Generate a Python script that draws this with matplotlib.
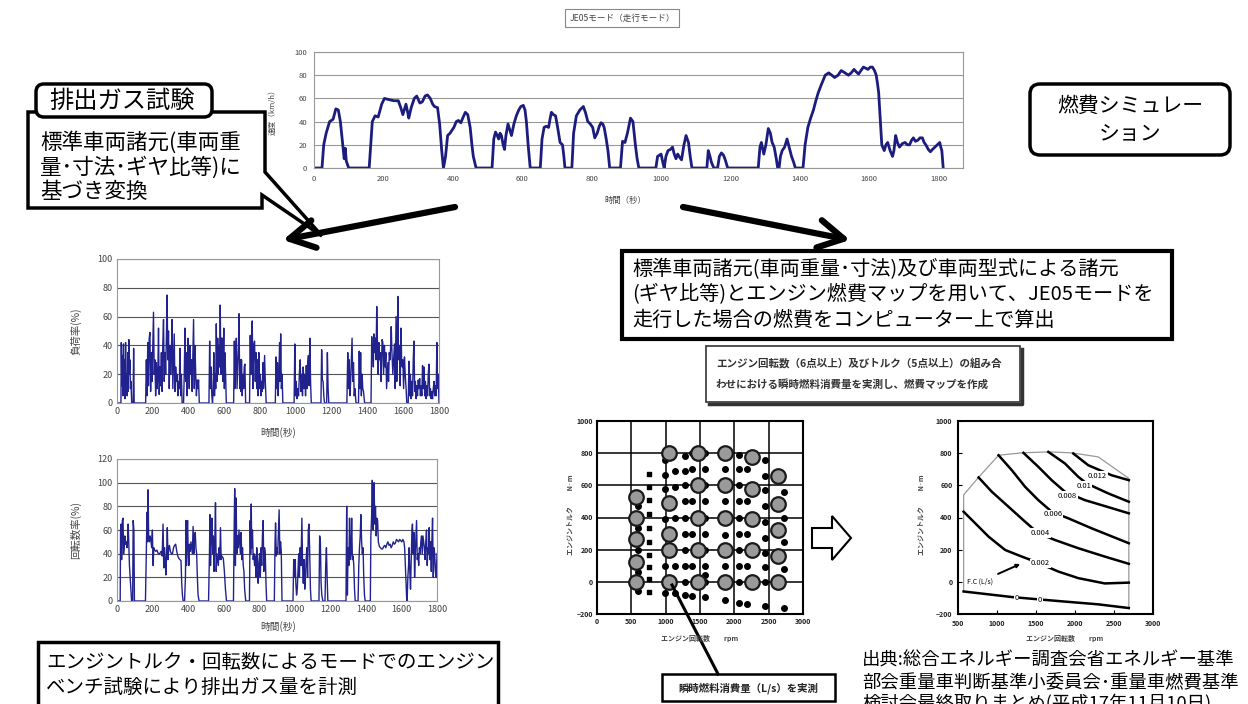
import matplotlib
matplotlib.use("Agg")
import matplotlib.pyplot as plt
from matplotlib.patches import FancyBboxPatch, Polygon, Rectangle

plt.rcParams["font.family"] = ["Noto Sans CJK JP", "DejaVu Sans"]

W, H = 1248, 704

# JE05 mode speed trace (time s, km/h)
speed_pts = [
    (0, 0), (23, 0), (28, 20), (35, 30), (45, 40), (55, 42), (63, 51), (70, 50), (76, 40), (83, 20),
    (87, 8), (90, 17), (93, 6), (100, 0),
    (159, 0), (168, 40), (176, 45), (185, 44), (195, 55), (203, 60), (215, 59), (230, 58), (243, 58),
    (250, 52), (256, 46), (260, 50), (265, 55), (270, 48), (273, 43), (280, 52), (289, 60), (296, 62),
    (305, 56), (312, 57), (320, 62), (327, 63), (335, 60), (342, 55), (347, 53), (356, 52), (362, 38),
    (368, 15), (373, 0),
    (379, 10), (385, 28), (392, 30), (403, 35), (410, 40), (416, 41), (423, 39), (430, 44), (436, 48),
    (443, 46), (450, 35), (455, 20), (459, 10), (467, 0),
    (513, 0), (518, 25), (523, 31), (528, 28), (532, 25), (536, 30), (540, 28), (545, 20), (549, 16),
    (553, 28), (559, 38), (564, 33), (569, 28), (576, 38), (583, 45), (590, 50), (596, 53), (603, 54),
    (608, 50), (612, 40), (617, 20), (623, 0),
    (652, 0), (657, 25), (663, 35), (669, 36), (676, 35), (680, 42), (684, 48), (690, 46), (696, 45),
    (702, 35), (709, 22), (716, 20), (720, 10), (723, 0),
    (743, 0), (748, 30), (756, 45), (766, 50), (776, 53), (782, 48), (789, 40), (796, 38), (803, 35),
    (809, 26), (816, 30), (822, 36), (827, 39), (832, 38), (836, 35), (842, 25), (847, 15), (852, 0),
    (883, 0), (889, 23), (896, 22), (903, 30), (912, 43), (919, 40), (926, 20), (931, 8), (936, 0),
    (985, 0), (990, 10), (1000, 12), (1005, 5), (1009, 0), (1014, 10), (1020, 15), (1027, 16),
    (1033, 18), (1038, 12), (1043, 8), (1048, 12), (1052, 10), (1059, 7), (1066, 20), (1072, 28),
    (1079, 22), (1084, 10), (1089, 0),
    (1132, 0), (1136, 15), (1141, 10), (1145, 5), (1152, 0), (1163, 0), (1168, 10), (1174, 13),
    (1180, 11), (1185, 7), (1192, 0),
    (1280, 0), (1285, 18), (1289, 22), (1296, 12), (1302, 20), (1309, 34), (1315, 30), (1320, 22),
    (1326, 18), (1332, 8), (1336, 0), (1340, 0), (1344, 10), (1349, 15), (1356, 18), (1363, 25),
    (1369, 18), (1376, 10), (1382, 5), (1387, 0),
    (1409, 0), (1415, 20), (1423, 35), (1431, 43), (1439, 50), (1446, 58), (1453, 65), (1462, 72),
    (1473, 80), (1483, 82), (1492, 80), (1500, 78), (1510, 80), (1519, 84), (1530, 82), (1540, 80),
    (1548, 82), (1556, 85), (1562, 83), (1569, 81), (1576, 84), (1583, 87), (1590, 86), (1596, 85),
    (1603, 87), (1609, 87), (1615, 84), (1620, 80), (1624, 72), (1627, 65), (1632, 40), (1636, 20),
    (1643, 15), (1648, 20), (1653, 22), (1660, 15), (1667, 10), (1671, 15), (1676, 28), (1681, 22),
    (1687, 18), (1695, 21), (1703, 22), (1710, 20), (1716, 20), (1722, 24), (1727, 26), (1733, 23),
    (1740, 24), (1746, 26), (1753, 26), (1758, 22), (1763, 20), (1770, 16), (1776, 14), (1782, 16),
    (1789, 18), (1796, 20), (1803, 22), (1806, 18), (1809, 15), (1813, 0),
]

# load ratio (time s, %)
load_pts = [
    (0, 0), (22, 0), (24, 42), (27, 12), (30, 33), (33, 5), (36, 41), (39, 15), (42, 30), (45, 3),
    (48, 42), (51, 12), (54, 20), (57, 5), (60, 35), (63, 8), (66, 44), (69, 20), (72, 30), (75, 10),
    (78, 15), (82, 0), (90, 0), (93, 38), (96, 0),
    (160, 0), (164, 30), (168, 5), (172, 42), (176, 12), (180, 45), (184, 49), (188, 8), (192, 35),
    (196, 15), (200, 40), (204, 63), (208, 20), (212, 30), (216, 5), (220, 28), (224, 10), (228, 18),
    (232, 52), (236, 6), (240, 25), (244, 12), (248, 35), (252, 8), (256, 40), (260, 58), (264, 15),
    (268, 35), (272, 20), (276, 45), (280, 75), (284, 30), (288, 50), (292, 10), (296, 40), (300, 20),
    (304, 35), (308, 58), (312, 10), (316, 30), (320, 48), (324, 8), (328, 25), (332, 15), (336, 20),
    (340, 5), (344, 15), (348, 10), (352, 38), (356, 5), (360, 20), (364, 0), (372, 0), (376, 20),
    (380, 52), (384, 15), (388, 35), (392, 5), (396, 45), (400, 30), (404, 10), (408, 40), (412, 20),
    (416, 30), (420, 8), (424, 35), (428, 58), (432, 10), (436, 40), (440, 20), (444, 5), (448, 16),
    (452, 10), (456, 16), (460, 0),
    (514, 0), (518, 43), (522, 10), (526, 25), (530, 5), (534, 0), (538, 10), (541, 35), (545, 5),
    (549, 20), (552, 10), (555, 55), (559, 15), (563, 45), (566, 20), (570, 40), (574, 25), (577, 68),
    (581, 20), (584, 45), (588, 45), (591, 15), (594, 30), (597, 52), (600, 10), (603, 35), (607, 20),
    (611, 0),
    (652, 0), (656, 43), (659, 10), (663, 30), (667, 45), (671, 10), (675, 25), (679, 40), (682, 62),
    (686, 10), (690, 30), (693, 8), (696, 30), (700, 5), (704, 20), (708, 10), (711, 25), (715, 27),
    (719, 0),
    (741, 0), (745, 47), (748, 20), (752, 45), (756, 57), (760, 10), (764, 40), (769, 43), (773, 15),
    (777, 35), (781, 10), (785, 30), (789, 5), (793, 35), (797, 10), (801, 20), (805, 5), (809, 15),
    (812, 8), (816, 28), (820, 10), (825, 33), (829, 15), (834, 0),
    (885, 0), (889, 32), (893, 10), (897, 28), (901, 5), (905, 20), (909, 42), (912, 15), (915, 48),
    (919, 10), (923, 20), (927, 0),
    (990, 0), (994, 41), (998, 5), (1002, 15), (1006, 3), (1010, 10), (1015, 5), (1020, 22),
    (1024, 30), (1028, 8), (1033, 20), (1037, 5), (1041, 25), (1045, 10), (1050, 20), (1054, 5),
    (1058, 26), (1062, 10), (1066, 28), (1070, 33), (1074, 12), (1078, 45), (1082, 15), (1086, 0),
    (1140, 0), (1144, 37), (1148, 16), (1152, 15), (1156, 5), (1160, 0), (1172, 0), (1176, 35),
    (1180, 10), (1184, 0),
    (1285, 0), (1290, 35), (1294, 10), (1298, 30), (1302, 5), (1306, 15), (1310, 30), (1314, 45),
    (1318, 15), (1322, 28), (1326, 5), (1330, 10), (1336, 0), (1350, 0), (1354, 36), (1358, 10),
    (1362, 35), (1366, 5), (1370, 20), (1374, 10), (1378, 8), (1384, 0),
    (1420, 0), (1424, 46), (1427, 30), (1430, 40), (1433, 25), (1436, 48), (1440, 35), (1445, 45),
    (1448, 30), (1452, 67), (1456, 40), (1460, 20), (1464, 42), (1468, 30), (1473, 35), (1476, 15),
    (1479, 30), (1482, 44), (1486, 42), (1490, 20), (1495, 40), (1499, 25), (1503, 35), (1507, 10),
    (1511, 20), (1514, 28), (1518, 15), (1522, 35), (1526, 30), (1530, 40), (1533, 53), (1537, 35),
    (1542, 20), (1546, 30), (1551, 41), (1555, 10), (1560, 60), (1564, 15), (1567, 40), (1570, 74),
    (1574, 30), (1579, 40), (1583, 12), (1588, 52), (1591, 30), (1595, 25), (1598, 30), (1602, 10),
    (1607, 32), (1611, 20), (1616, 10), (1620, 0),
    (1628, 0), (1632, 29), (1636, 5), (1640, 20), (1644, 3), (1648, 15), (1652, 5), (1656, 30),
    (1660, 43), (1664, 8), (1668, 15), (1672, 3), (1676, 12), (1680, 5), (1684, 16), (1688, 10),
    (1692, 17), (1696, 5), (1700, 12), (1704, 5), (1708, 26), (1712, 10), (1716, 25), (1720, 5),
    (1724, 15), (1728, 3), (1732, 12), (1736, 5), (1740, 20), (1744, 27), (1748, 5), (1752, 10),
    (1756, 3), (1760, 8), (1764, 3), (1768, 10), (1772, 15), (1776, 5), (1780, 12), (1784, 5),
    (1788, 42), (1792, 10), (1796, 20), (1800, 0),
]

# engine speed ratio (time s, %)
rpm_pts = [
    (0, 0), (18, 0), (20, 60), (23, 65), (26, 35), (30, 68), (34, 70), (37, 40), (40, 45), (44, 55),
    (48, 48), (52, 50), (56, 45), (60, 52), (63, 65), (66, 50), (70, 30), (74, 20), (78, 10), (82, 0),
    (88, 0), (91, 68), (95, 60), (98, 0),
    (160, 0), (165, 40), (169, 75), (172, 50), (175, 94), (178, 55), (182, 50), (186, 55), (190, 52),
    (195, 45), (199, 60), (203, 30), (207, 45), (212, 43), (218, 42), (225, 43), (232, 40), (240, 40),
    (248, 42), (254, 38), (259, 65), (263, 28), (267, 45), (271, 35), (275, 22), (279, 40), (283, 62),
    (287, 35), (291, 45), (295, 47), (300, 42), (306, 40), (312, 40), (318, 45), (324, 47), (330, 48),
    (336, 42), (342, 38), (348, 36), (354, 35), (360, 34), (364, 15), (368, 5), (372, 0),
    (380, 0), (385, 20), (388, 68), (391, 30), (394, 55), (397, 68), (400, 45), (404, 30), (408, 48),
    (412, 42), (416, 50), (420, 45), (424, 40), (428, 63), (432, 40), (436, 55), (440, 58), (444, 45),
    (448, 40), (452, 20), (456, 5), (462, 0),
    (515, 0), (520, 40), (523, 73), (526, 30), (530, 55), (534, 70), (538, 40), (542, 55), (546, 25),
    (550, 50), (554, 83), (558, 25), (562, 40), (566, 35), (570, 30), (574, 45), (578, 35), (582, 62),
    (586, 35), (590, 38), (594, 37), (598, 36), (604, 25), (610, 10), (616, 0),
    (655, 0), (659, 60), (662, 95), (666, 30), (670, 87), (674, 40), (678, 55), (682, 45), (686, 60),
    (690, 50), (694, 40), (698, 58), (702, 35), (706, 45), (710, 30), (714, 25), (718, 10), (724, 0),
    (745, 0), (749, 68), (752, 40), (755, 82), (758, 45), (762, 60), (766, 35), (770, 40), (774, 30),
    (778, 38), (782, 20), (786, 45), (790, 35), (794, 15), (798, 30), (802, 40), (806, 20), (810, 45),
    (814, 30), (818, 55), (822, 68), (826, 25), (830, 45), (834, 40), (838, 15), (842, 0),
    (885, 0), (889, 50), (892, 66), (896, 38), (900, 45), (904, 40), (908, 60), (912, 77), (916, 40),
    (920, 50), (924, 42), (928, 0),
    (990, 0), (994, 35), (998, 20), (1002, 35), (1006, 15), (1010, 5), (1014, 10), (1018, 25),
    (1022, 40), (1026, 20), (1030, 45), (1035, 30), (1040, 70), (1044, 30), (1048, 15), (1052, 35),
    (1056, 10), (1060, 20), (1064, 35), (1068, 45), (1072, 20), (1076, 60), (1080, 65), (1084, 40),
    (1088, 10), (1092, 0),
    (1136, 0), (1140, 55), (1144, 50), (1148, 15), (1152, 5), (1158, 0), (1170, 0), (1174, 30),
    (1178, 45), (1182, 20), (1186, 0),
    (1288, 0), (1292, 80), (1296, 5), (1300, 45), (1304, 30), (1308, 70), (1312, 35), (1316, 40),
    (1320, 70), (1324, 35), (1328, 38), (1332, 30), (1336, 10), (1340, 0), (1356, 0), (1360, 30),
    (1364, 45), (1368, 55), (1372, 73), (1376, 50), (1380, 40), (1384, 45), (1388, 20), (1392, 5),
    (1396, 0),
    (1425, 0), (1428, 55), (1432, 70), (1436, 102), (1440, 60), (1443, 95), (1446, 100), (1450, 65),
    (1454, 80), (1458, 55), (1462, 70), (1466, 68), (1470, 50), (1476, 46), (1482, 45), (1488, 44),
    (1494, 44), (1500, 46), (1506, 47), (1512, 45), (1518, 48), (1524, 50), (1530, 47), (1536, 48),
    (1542, 45), (1548, 47), (1554, 50), (1560, 48), (1566, 49), (1572, 52), (1578, 51), (1584, 50),
    (1590, 52), (1596, 51), (1602, 50), (1608, 52), (1614, 50), (1618, 45), (1622, 30), (1626, 15),
    (1630, 0),
    (1632, 0), (1636, 20), (1640, 30), (1643, 45), (1647, 25), (1651, 10), (1655, 35), (1659, 60),
    (1662, 65), (1666, 40), (1670, 58), (1674, 20), (1678, 40), (1682, 55), (1685, 68), (1689, 35),
    (1693, 40), (1697, 30), (1701, 45), (1705, 40), (1709, 50), (1713, 55), (1717, 40), (1721, 55),
    (1725, 50), (1729, 45), (1733, 35), (1737, 50), (1741, 60), (1745, 30), (1749, 45), (1753, 40),
    (1756, 62), (1760, 35), (1764, 50), (1768, 25), (1772, 55), (1775, 70), (1779, 20), (1783, 45),
    (1787, 40), (1791, 25), (1795, 20), (1800, 40),
]

# measured fuel map points (rpm, N·m)
big_rpm = [570] * 5 + [1050] * 5 + [1470] * 5 + [1860] * 5 + [2260] * 5 + [2640] * 5
big_torque = [0, 125, 265, 400, 530, 0, 195, 295, 490, 800, 0, 200, 400, 600, 800,
              0, 200, 400, 600, 800, 0, 195, 390, 580, 775, 0, 160, 320, 485, 655]
sq_rpm = [760] * 10
sq_torque = [670, 590, 510, 420, 335, 250, 165, 95, 15, -65]
dot_rpm = ([600] * 5 + [990] * 10 + [1130] * 5 + [1280] * 10 + [1390] * 6 + [1570] * 11
           + [1860] * 5 + [2070] * 10 + [2180] * 5 + [2450] * 10 + [2720] * 5)
dot_torque = ([470, 335, 200, 60, -60]
              + [760, 665, 575, 480, 390, 295, 200, 100, 0, -70]
              + [690, 590, 395, 100, -70]
              + [780, 690, 600, 500, 400, 300, 200, 100, 0, -80]
              + [800, 700, 500, 300, 100, -90]
              + [800, 700, 600, 500, 400, 300, 200, 100, 40, 0, -95]
              + [700, 500, 290, 100, -115]
              + [790, 700, 600, 500, 400, 300, 200, 100, 0, -130]
              + [700, 500, 300, 100, -140]
              + [760, 660, 570, 470, 370, 270, 180, 90, 0, -150]
              + [560, 400, 250, 80, -160])

# fuel map contour lines (rpm, N·m) and labels (L/s)
map_boundary = [(572, -60), (572, 540), (764, 650), (1020, 787), (1318, 802), (1658, 808),
                (1957, 802), (2297, 777), (2690, 643), (2690, -163)]
contour_levels = ["0", "0.002", "0.004", "0.006", "0.008", "0.01", "0.012"]
contour_lines = [
    [(572, -60), (1200, -95), (1800, -120), (2300, -140), (2690, -163)],
    [(572, 436), (721, 364), (892, 281), (1105, 198), (1318, 157), (1488, 126), (1786, 64),
     (2042, 23), (2382, -10), (2690, -5)],
    [(764, 649), (934, 560), (1147, 467), (1360, 374), (1530, 302), (1744, 260), (2042, 209),
     (2382, 157), (2690, 112)],
    [(1020, 787), (1190, 694), (1360, 591), (1530, 508), (1701, 436), (1914, 395), (2212, 333),
     (2690, 240)],
    [(1339, 802), (1530, 715), (1701, 632), (1871, 560), (2127, 508), (2382, 471), (2690, 426)],
    [(1658, 808), (1871, 736), (2042, 653), (2148, 612), (2425, 550), (2690, 498)],
    [(1978, 798), (2170, 725), (2468, 663), (2690, 632)],
]
contour_label_pos = [(1250, -100), (1560, 115), (1560, 305), (1720, 420), (1900, 535),
                     (2110, 598), (2290, 660)]

fig = plt.figure(figsize=(W / 100, H / 100), dpi=100)


def px_axes(left, top, right, bottom):
    return fig.add_axes([left / W, 1 - bottom / H, (right - left) / W, (bottom - top) / H])


def excel_style(ax, grid_color, spine_color, size, pad=3):
    ax.yaxis.grid(True, color=grid_color, lw=0.8)
    ax.set_axisbelow(True)
    ax.tick_params(length=0, labelsize=size, labelcolor="#444", pad=pad)
    for sp in ax.spines.values():
        sp.set_color(spine_color)
        sp.set_linewidth(0.8)


# top: JE05 speed
ax = px_axes(314, 52, 963, 168)
ax.plot([p[0] for p in speed_pts], [p[1] for p in speed_pts], color="#1c1c7e", lw=2)
ax.set_xlim(0, 1870)
ax.set_ylim(0, 100)
ax.set_xticks(range(0, 1801, 200))
ax.set_yticks(range(0, 101, 20))
excel_style(ax, "#999999", "#999999", 5.5, pad=5)

# left: load ratio
ax1 = px_axes(117, 259, 439, 403)
ax1.plot([p[0] for p in load_pts], [p[1] for p in load_pts], color="#22228f", lw=1.0)
ax1.set_xlim(0, 1800)
ax1.set_ylim(0, 100)
ax1.set_xticks(range(0, 1801, 200))
ax1.set_yticks(range(0, 101, 20))
excel_style(ax1, "#555555", "#999999", 6.5)

# left: engine speed ratio
ax2 = px_axes(117, 459, 437, 601)
ax2.plot([p[0] for p in rpm_pts], [p[1] for p in rpm_pts], color="#22228f", lw=1.0)
ax2.set_xlim(0, 1800)
ax2.set_ylim(0, 120)
ax2.set_xticks(range(0, 1801, 200))
ax2.set_yticks(range(0, 121, 20))
excel_style(ax2, "#555555", "#999999", 6.5)

# measured points
ax3 = px_axes(597, 421, 803, 614)
ax3.set_xlim(0, 3000)
ax3.set_ylim(-200, 1000)
ax3.set_xticks(range(0, 3001, 500))
ax3.set_yticks(range(-200, 1001, 200))
ax3.grid(True, color="black", lw=1.1)
ax3.set_axisbelow(True)
ax3.scatter(sq_rpm, sq_torque, marker="s", s=12, color="black", zorder=3)
ax3.scatter(dot_rpm, dot_torque, marker="o", s=16, color="black", zorder=3)
ax3.scatter(big_rpm, big_torque, marker="o", s=110, facecolor="#9a9a9a",
            edgecolor="#1a1a1a", lw=1.6, zorder=4)
ax3.tick_params(length=0, labelsize=5, labelcolor="#222", pad=3)
for lbl in ax3.get_xticklabels() + ax3.get_yticklabels():
    lbl.set_fontweight("bold")
for sp in ax3.spines.values():
    sp.set_linewidth(1.5)

# fuel map
ax4 = px_axes(958, 421, 1153, 614)
ax4.set_xlim(500, 3000)
ax4.set_ylim(-200, 1000)
ax4.set_xticks(range(500, 3001, 500))
ax4.set_yticks(range(-200, 1001, 200))
ax4.plot([p[0] for p in map_boundary], [p[1] for p in map_boundary], color="#999999", lw=0.9)
for line in contour_lines:
    ax4.plot([p[0] for p in line], [p[1] for p in line], color="black", lw=1.8)
for lab, (x, y) in zip(contour_levels, contour_label_pos):
    ax4.text(x, y, lab, fontsize=5.5, ha="center", va="center",
             bbox=dict(boxstyle="square,pad=0.1", fc="white", ec="none"))
ax4.text(1550, -112, "0", fontsize=5.5, ha="center", va="center",
         bbox=dict(boxstyle="square,pad=0.1", fc="white", ec="none"))
ax4.annotate("F.C (L/s)", xy=(1330, 118), xytext=(620, 0), fontsize=5, va="center",
             arrowprops=dict(arrowstyle="-|>", lw=1.4, color="black", shrinkA=2, shrinkB=2))
ax4.tick_params(direction="in", length=3, labelsize=5, labelcolor="#222", pad=4)
for lbl in ax4.get_xticklabels() + ax4.get_yticklabels():
    lbl.set_fontweight("bold")
for sp in ax4.spines.values():
    sp.set_linewidth(1.5)

# overlay for boxes, arrows and texts (pixel coordinates)
ov = fig.add_axes([0, 0, 1, 1], zorder=5)
ov.set_xlim(0, W)
ov.set_ylim(H, 0)
ov.axis("off")

small = dict(color="#444", ha="center", va="center")
ov.text(622, 18, "JE05モード（走行モード）", fontsize=6.2,
        bbox=dict(boxstyle="square,pad=0.55", fc="white", ec="#888", lw=0.8), **small)
ov.text(273, 110, "速度（km/h）", fontsize=5.5, rotation=90, **small)
ov.text(625, 200, "時間（秒）", fontsize=6, **small)
ov.text(76, 331, "負荷率(%)", fontsize=7.5, rotation=90, **small)
ov.text(278, 433, "時間(秒)", fontsize=7, **small)
ov.text(76, 530, "回転数率(%)", fontsize=7.5, rotation=90, **small)
ov.text(278, 627, "時間(秒)", fontsize=7, **small)
ov.text(570, 515, "エンジントルク　　 N·m", fontsize=5, rotation=90, fontweight="bold", **small)
ov.text(700, 638, "エンジン回転数　　rpm", fontsize=5, fontweight="bold", **small)
ov.text(921, 515, "エンジントルク　　 N·m", fontsize=5, rotation=90, fontweight="bold", **small)
ov.text(1065, 638, "エンジン回転数　　rpm", fontsize=5, fontweight="bold", **small)

# left callout with tab
ov.add_patch(Polygon([(28, 112), (265, 112), (265, 172), (322, 236), (262, 195), (262, 208),
                      (28, 208)], closed=True, fc="white", ec="black", lw=2.5, joinstyle="miter"))
ov.add_patch(FancyBboxPatch((36, 84), 176, 33, boxstyle="round,pad=0,rounding_size=8",
                            fc="white", ec="black", lw=2.5))
ov.text(122, 101, "排出ガス試験", fontsize=17.5, ha="center", va="center")
for i, s in enumerate(["標準車両諸元(車両重", "量･寸法･ギヤ比等)に", "基づき変換"]):
    ov.text(40, 142 + i * 25, s, fontsize=15.5, ha="left", va="center")

# right rounded box
ov.add_patch(FancyBboxPatch((1030, 84), 200, 71, boxstyle="round,pad=0,rounding_size=10",
                            fc="white", ec="black", lw=2.5))
ov.text(1130, 106, "燃費シミュレー", fontsize=15, ha="center", va="center")
ov.text(1130, 134, "ション", fontsize=15, ha="center", va="center")

# big arrows
arrow = dict(arrowstyle="->,head_length=0.9,head_width=0.5", lw=4.5, color="black",
             shrinkA=0, shrinkB=0, mutation_scale=20)
ov.annotate("", xy=(283, 240), xytext=(455, 207), arrowprops=arrow)
ov.annotate("", xy=(850, 240), xytext=(683, 207), arrowprops=arrow)

# simulation description box
ov.add_patch(Rectangle((622, 251), 550, 88, fc="white", ec="black", lw=3))
for i, s in enumerate(["標準車両諸元(車両重量･寸法)及び車両型式による諸元",
                       "(ギヤ比等)とエンジン燃費マップを用いて、JE05モードを",
                       "走行した場合の燃費をコンピューター上で算出"]):
    ov.text(632, 270 + i * 25, s, fontsize=14.5, ha="left", va="center")

# map measurement box
ov.plot([709, 1022, 1022], [404, 404, 349], color="#333", lw=2.5)
ov.add_patch(Rectangle((706, 346), 314, 56, fc="white", ec="#333", lw=1.2))
for i, s in enumerate(["エンジン回転数（6点以上）及びトルク（5点以上）の組み合",
                       "わせにおける瞬時燃料消費量を実測し、燃費マップを作成"]):
    ov.text(716, 363 + i * 21, s, fontsize=7.6, ha="left", va="center", color="#333",
            fontweight="bold")

# hollow arrow between maps
ov.add_patch(Polygon([(812, 528), (832, 528), (832, 516), (851, 538), (832, 560), (832, 548),
                      (812, 548)], closed=True, fc="white", ec="black", lw=1.5))

# measured point callout
ov.plot([672, 718], [585, 674], color="black", lw=2.2)
ov.add_patch(Rectangle((662, 674), 173, 27, fc="white", ec="black", lw=1.8))
ov.text(748, 688, "瞬時燃料消費量（L/s）を実測", fontsize=7.5, ha="center", va="center",
        color="#222", fontweight="bold")

# bottom-left box
ov.add_patch(Rectangle((38, 642), 460, 70, fc="white", ec="black", lw=2.5))
ov.text(46, 662, "エンジントルク・回転数によるモードでのエンジン", fontsize=14, ha="left", va="center")
ov.text(46, 687, "ベンチ試験により排出ガス量を計測", fontsize=14, ha="left", va="center")

# source (last line is cut by the lower edge, as in the original)
for i, s in enumerate(["出典:総合エネルギー調査会省エネルギー基準",
                       "部会重量車判断基準小委員会･重量車燃費基準",
                       "検討会最終取りまとめ(平成17年11月10日)"]):
    ov.text(862, 661 + i * 21, s, fontsize=13.2, ha="left", va="center")

fig.savefig("out.png", dpi=100)
